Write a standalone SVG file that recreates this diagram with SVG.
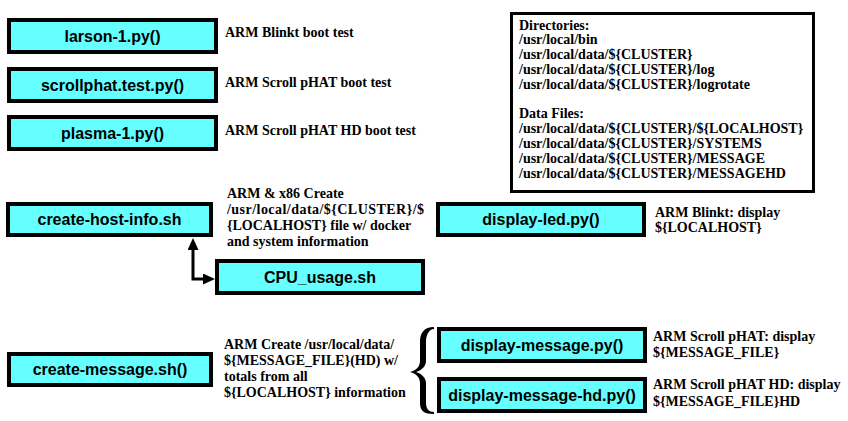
<svg xmlns="http://www.w3.org/2000/svg" width="848" height="421" viewBox="0 0 848 421">
<style>
.box{fill:#66ffff;stroke:#000;stroke-width:4}
.bt{font-family:"Liberation Sans",Arial,sans-serif;font-weight:bold;font-size:16px;fill:#000;text-anchor:middle}
.lb{font-family:"Liberation Serif","Times New Roman",serif;font-weight:bold;font-size:14px;fill:#000}
.conn{fill:none;stroke:#000;stroke-width:3;stroke-linejoin:miter}
</style>
<defs>
<marker id="ah" markerUnits="userSpaceOnUse" markerWidth="12" markerHeight="11" viewBox="0 0 12 11" refX="0" refY="5.5" orient="auto-start-reverse">
<path d="M0,0 L12,5.5 L0,11 z" fill="#000"/>
</marker>
</defs>
<rect width="848" height="421" fill="#fff"/>

<g id="larson">
<rect class="box" x="9" y="20" width="207" height="32"/>
<text class="bt" x="112.5" y="42">larson-1.py()</text>
</g>
<text class="lb" x="225" y="37">ARM Blinkt boot test</text>

<g id="scrollphat">
<rect class="box" x="9" y="69" width="207" height="32"/>
<text class="bt" x="112.5" y="91">scrollphat.test.py()</text>
</g>
<text class="lb" x="225" y="87">ARM Scroll pHAT boot test</text>

<g id="plasma">
<rect class="box" x="9" y="117" width="207" height="32"/>
<text class="bt" x="112.5" y="139">plasma-1.py()</text>
</g>
<text class="lb" x="225" y="135">ARM Scroll pHAT HD boot test</text>

<g id="directories">
<rect x="511.5" y="13.5" width="302" height="178" fill="#fff" stroke="#000" stroke-width="3"/>
<text class="lb" x="519" y="29.5">Directories:</text>
<text class="lb" x="519" y="44.3">/usr/local/bin</text>
<text class="lb" x="519" y="59.1">/usr/local/data/${CLUSTER}</text>
<text class="lb" x="519" y="73.9">/usr/local/data/${CLUSTER}/log</text>
<text class="lb" x="519" y="88.7">/usr/local/data/${CLUSTER}/logrotate</text>
<text class="lb" x="519" y="118.3">Data Files:</text>
<text class="lb" x="519" y="133.1">/usr/local/data/${CLUSTER}/${LOCALHOST}</text>
<text class="lb" x="519" y="147.9">/usr/local/data/${CLUSTER}/SYSTEMS</text>
<text class="lb" x="519" y="162.7">/usr/local/data/${CLUSTER}/MESSAGE</text>
<text class="lb" x="519" y="177.5">/usr/local/data/${CLUSTER}/MESSAGEHD</text>
</g>

<g id="create-host-info">
<rect class="box" x="8" y="204" width="203" height="31"/>
<text class="bt" x="109.5" y="225">create-host-info.sh</text>
</g>
<text class="lb" x="227" y="198">ARM &amp; x86 Create</text>
<text class="lb" x="227" y="214" textLength="197" lengthAdjust="spacing">/usr/local/data/${CLUSTER}/$</text>
<text class="lb" x="227" y="230">{LOCALHOST} file w/ docker</text>
<text class="lb" x="227" y="246">and system information</text>

<g id="cpu-usage">
<rect class="box" x="217" y="261" width="206" height="32"/>
<text class="bt" x="320" y="283">CPU_usage.sh</text>
</g>

<g id="display-led">
<rect class="box" x="438" y="204" width="206" height="31"/>
<text class="bt" x="541" y="225">display-led.py()</text>
</g>
<text class="lb" x="655" y="217">ARM Blinkt: display</text>
<text class="lb" x="655" y="232">${LOCALHOST}</text>

<g id="create-message">
<rect class="box" x="9" y="354" width="202" height="31"/>
<text class="bt" x="110" y="375">create-message.sh()</text>
</g>
<text class="lb" x="224" y="349">ARM Create /usr/local/data/</text>
<text class="lb" x="224" y="365">${MESSAGE_FILE}(HD) w/</text>
<text class="lb" x="224" y="381">totals from all</text>
<text class="lb" x="224" y="397">${LOCALHOST} information</text>

<g id="display-message">
<rect class="box" x="439" y="329" width="206" height="32"/>
<text class="bt" x="542" y="351">display-message.py()</text>
</g>
<text class="lb" x="653" y="341">ARM Scroll pHAT: display</text>
<text class="lb" x="653" y="357">${MESSAGE_FILE}</text>

<g id="display-message-hd">
<rect class="box" x="439" y="379" width="206" height="32"/>
<text class="bt" x="542" y="401">display-message-hd.py()</text>
</g>
<text class="lb" x="653" y="389">ARM Scroll pHAT HD: display</text>
<text class="lb" x="653" y="406">${MESSAGE_FILE}HD</text>

<g id="connectors">
<path class="conn" d="M193,250 V279 H203" marker-start="url(#ah)" marker-end="url(#ah)"/>
<path d="M434,327 C424,327 420,333 420,342 L420,361 C420,366 417,370 410,372 C417,374 420,378 420,383 L420,403 C420,411 424,414 434,414 L434,412 C429,412 426,409 426,403 L426,383 C426,378 422,374 416,372 C422,370 426,366 426,361 L426,342 C426,335 429,329 434,329 Z" fill="#000"/>
</g>
</svg>
